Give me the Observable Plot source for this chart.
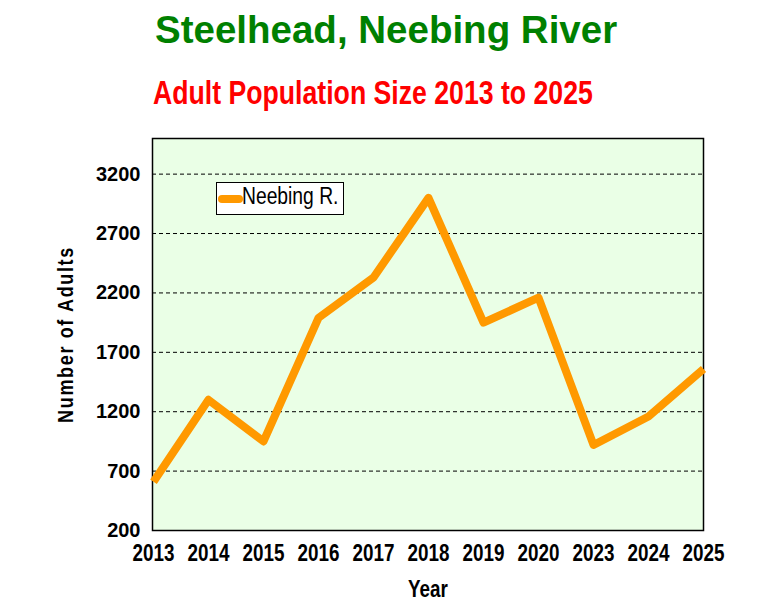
<!DOCTYPE html>
<html>
<head>
<meta charset="utf-8">
<script src="https://cdn.jsdelivr.net/npm/d3@7"></script>
<script src="https://cdn.jsdelivr.net/npm/@observablehq/plot@0.6"></script>
<style>
  html, body { margin: 0; padding: 0; background: #fff; }
  #wrap { position: relative; width: 772px; height: 604px; overflow: hidden; }
  .title { position: absolute; left: 155px; top: 10.9px; font-family: "Liberation Sans", Arial, sans-serif; font-weight: bold; font-size: 38.5px; line-height: 1; color: #008000; white-space: nowrap; }
  .subtitle { position: absolute; left: 153px; top: 77.2px; font-family: "Liberation Sans", Arial, sans-serif; font-weight: bold; font-size: 32.5px; line-height: 1; color: #ff0000; white-space: nowrap; transform: scaleX(0.82); transform-origin: 0 0; }
  #chart { position: absolute; left: 0; top: 120px; }
  .legend { position: absolute; left: 216px; top: 182px; width: 128px; height: 33px; box-sizing: border-box; border: 1px solid #000; background: #fff; }
  .legend .swatch { position: absolute; left: 1px; top: 11.5px; width: 25px; height: 8px; border-radius: 4px; background: #ff9900; }
  .legend .lab { position: absolute; left: 25px; top: 2px; font-family: "Liberation Sans", Arial, sans-serif; font-size: 23.5px; line-height: 1; color: #000; white-space: nowrap; transform: scaleX(0.82); transform-origin: 0 0; }
  .ylab text { letter-spacing: 2px; }
</style>
</head>
<body>
<div id="wrap">
  <div class="title">Steelhead, Neebing River</div>
  <div class="subtitle">Adult Population Size 2013 to 2025</div>
  <div id="chart"></div>
  <div class="legend"><span class="swatch"></span><span class="lab">Neebing R.</span></div>
</div>
<script>
const years = ["2013","2014","2015","2016","2017","2018","2019","2020","2023","2024","2025"];
const adults = [610, 1300, 950, 1990, 2330, 3000, 1950, 2160, 920, 1160, 1560];
const yTicks = [200, 700, 1200, 1700, 2200, 2700, 3200];
const gridTicks = [700, 1200, 1700, 2200, 2700, 3200];
const yLabel = "Number of Adults";
const xLabel = "Year";

const data = years.map((y, i) => ({year: y, adults: adults[i]}));
const sans = '"Liberation Sans", Arial, sans-serif';

const chart = Plot.plot({
  width: 772,
  height: 484,
  marginTop: 18,
  marginBottom: 74,
  marginLeft: 152,
  marginRight: 69,
  style: {background: "transparent", color: "#000", overflow: "visible"},
  x: {type: "point", domain: years, padding: 0},
  y: {domain: [200, 3500]},
  marks: [
    Plot.frame({fill: "#eaffe6", stroke: "none"}),
    Plot.ruleY(gridTicks, {stroke: "#000", strokeWidth: 1, strokeDasharray: "4,3"}),
    Plot.frame({stroke: "#000", strokeWidth: 1.5}),
    Plot.axisY(yTicks, {tickSize: 0, tickPadding: 12, label: null, tickFormat: d => String(d), fontSize: 20, fontWeight: "bold", fontFamily: sans, fill: "#000"}),
    Plot.axisX({tickSize: 0, tickPadding: 14, label: null, fontSize: 23, fontWeight: "bold", fontFamily: sans, fill: "#000", className: "xtick"}),
    Plot.line(data, {x: "year", y: "adults", stroke: "#ff9900", strokeWidth: 8, strokeLinejoin: "round", strokeLinecap: "butt"}),
    Plot.text([yLabel], {text: d => d, frameAnchor: "left", textAnchor: "middle", lineAnchor: "middle", dx: -87, rotate: -90, fontSize: 22, fontWeight: "bold", fontFamily: sans, fill: "#000", className: "ylab"}),
    Plot.text([xLabel], {text: d => d, frameAnchor: "bottom", textAnchor: "middle", lineAnchor: "middle", dy: 59.5, fontSize: 23, fontWeight: "bold", fontFamily: sans, fill: "#000", className: "xlab"})
  ]
});
document.getElementById("chart").appendChild(chart);

// condense text horizontally (narrow-font look) around each label's anchor
function condense(selector, k) {
  d3.select(chart).selectAll(selector).each(function() {
    const t = this.getAttribute("transform") || "";
    const x = this.getAttribute("x");
    const xv = x != null && !isNaN(+x) ? +x : 0;
    this.setAttribute("transform", `${t} translate(${xv},0) scale(${k},1) translate(${-xv},0)`);
  });
}
condense(".xtick text", 0.82);
condense(".xlab text", 0.82);
condense(".ylab text", 0.82);
</script>
</body>
</html>
